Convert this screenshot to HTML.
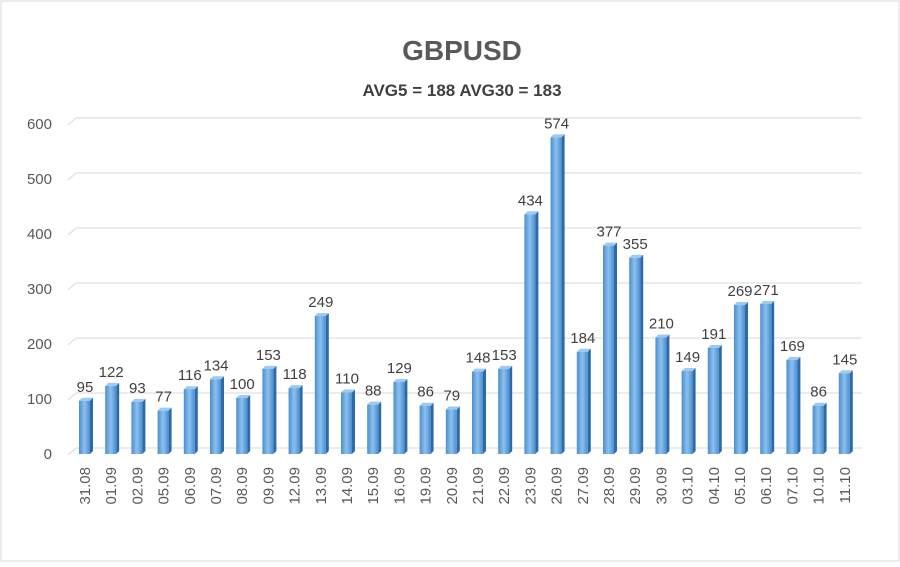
<!DOCTYPE html><html><head><style>body{margin:0;background:#fff}svg text{font-family:"Liberation Sans",sans-serif}</style></head><body>
<svg id="s" width="900" height="562" xmlns="http://www.w3.org/2000/svg">
<rect x="0" y="0" width="900" height="562" fill="#fff"/>
<rect x="1" y="1" width="898" height="560" fill="none" stroke="#d9d9d9"/>
<defs><linearGradient id="g" x1="0" x2="1"><stop offset="0" stop-color="#4a8fd0"/><stop offset="0.5" stop-color="#8cc0ee"/><stop offset="1" stop-color="#4a8fd0"/></linearGradient></defs>
<text x="462" y="60" font-size="28" font-weight="bold" fill="#595959" text-anchor="middle">GBPUSD</text>
<text x="462" y="96" font-size="17" font-weight="bold" fill="#404040" text-anchor="middle">AVG5 = 188 AVG30 = 183</text>
<g id="c"></g>
</svg>
<script>
var v=[95,122,93,77,116,134,100,153,118,249,110,88,129,86,79,148,153,434,574,184,377,355,210,149,191,269,271,169,86,145];
var l=["31.08","01.09","02.09","05.09","06.09","07.09","08.09","09.09","12.09","13.09","14.09","15.09","16.09","19.09","20.09","21.09","22.09","23.09","26.09","27.09","28.09","29.09","30.09","03.10","04.10","05.10","06.10","07.10","10.10","11.10"];
var h='',k=0.55,B=453;
for(var i=0;i<=6;i++){var y=B-i*100*k;h+='<polyline points="68,'+(y+2)+' 76,'+(y-5)+' 862,'+(y-5)+'" fill="none" stroke="#d9d9d9"/>';
h+='<text x="52" y="'+(y+6)+'" font-size="15" fill="#595959" text-anchor="end">'+(i*100)+'</text>';}
for(var j=0;j<30;j++){var x=85+j*26.2,t=B-v[j]*k;
h+='<polygon points="'+(x+5)+','+(t)+' '+(x+8)+','+(t-3)+' '+(x+8)+','+(B-2)+' '+(x+5)+','+(B+1)+'" fill="#2e6aa6"/>';
h+='<polygon points="'+(x-6)+','+t+' '+(x-3)+','+(t-3)+' '+(x+8)+','+(t-3)+' '+(x+5)+','+t+'" fill="#9ccaf2"/>';
h+='<rect x="'+(x-6)+'" y="'+t+'" width="11" height="'+(B+1-t)+'" fill="url(#g)"/>';
h+='<text x="'+x+'" y="'+(t-9)+'" font-size="15" fill="#404040" text-anchor="middle">'+v[j]+'</text>';
h+='<text transform="translate('+(x+5)+',467) rotate(-90)" font-size="15" fill="#595959" text-anchor="end">'+l[j]+'</text>';}
document.getElementById('c').innerHTML=h;
</script></body></html>
